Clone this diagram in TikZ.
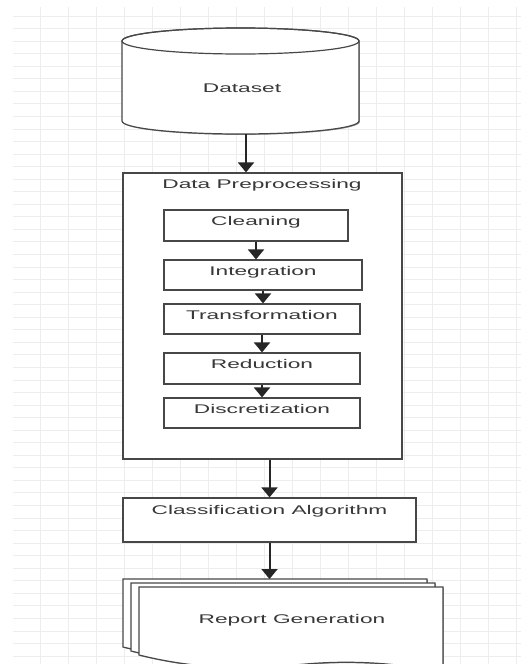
\documentclass[tikz,border=0pt]{standalone}
\usepackage{fontspec}
\setmainfont{Liberation Sans}[FakeStretch=1.8]
\usetikzlibrary{arrows.meta,positioning,shadows}

\begin{document}
\begin{tikzpicture}[
  x=1pt,y=-1pt,
  font=\fontsize{12.6}{15}\selectfont,
  >={Triangle[width=16pt,length=10pt]},
  gridline/.style={draw=black!7,line width=0.9pt},
  box/.style={draw=black!72,line width=1.2pt,fill=white,text=black!78,
              drop shadow={shadow xshift=0.9pt,shadow yshift=-0.9pt,fill=black!40,opacity=1}},
  rim/.style={draw=black!72,line width=1.2pt},
  stage/.style={box,minimum width=196pt,minimum height=30pt,text depth=9pt,inner sep=0pt},
  flow/.style={->,draw=black!85,line width=2pt},
  txt/.style={text=black!78},
]

\useasboundingbox (0,0) rectangle (521,664);

%% background grid
\foreach \gx in {0,...,17}
  \draw[gridline] (40+28*\gx,7) -- (40+28*\gx,664);
\foreach \gy in {0,...,51}
  \draw[gridline] (13,16+12.55*\gy) -- (521,16+12.55*\gy);

% --- Dataset (cylinder) ---
\path[box] (122,41) -- (122,121) arc[start angle=180,end angle=0,x radius=118.5,y radius=13]
  -- (359,41) arc[start angle=0,end angle=-180,x radius=118.5,y radius=13] -- cycle;
\draw[rim] (240.5,41) ellipse[x radius=118.5,y radius=13];
\node[txt] (dataset) at (242,88) {Dataset};
\coordinate (dsbot) at (246,134);

% --- Data preprocessing group ---
\node[box,minimum width=279pt,minimum height=286pt] (prep) at (262.5,316) {};
\node[txt] (preptitle) at (262,185) {Data Preprocessing};

\node[stage,minimum width=184pt,minimum height=31pt] (clean) at (256,225.5) {Cleaning};
\node[stage,minimum width=198pt] (integ) at (263,275) {Integration};
\node[stage] (trans) at (262,319) {Transformation};
\node[stage,minimum height=31pt] (reduce) at (262,368.5) {Reduction};
\node[stage] (discret) at (262,413) {Discretization};

% --- Classification ---
\node[box,minimum width=293pt,minimum height=44pt,text depth=20pt,inner sep=0pt]
  (classify) at (269.5,520) {Classification Algorithm};

% --- Report (stacked documents) ---
\begin{scope}
  \clip (0,0) rectangle (521,664);
  \foreach \i in {0,1,2}
    \path[box] (123+8*\i,579+4*\i) -- (427+8*\i,579+4*\i) -- (427+8*\i,664+4*\i)
      .. controls (381+8*\i,655+4*\i) and (336+8*\i,652+4*\i) .. (290+8*\i,656+4*\i)
      .. controls (229+8*\i,661+4*\i) and (184+8*\i,662+4*\i) .. (123+8*\i,647+4*\i) -- cycle;
\end{scope}
\node[txt] (report) at (292,620) {Report Generation};
\coordinate (doctop) at (123,579);

% --- connectors ---
\draw[flow] (dsbot) -- (dsbot |- prep.north);
\draw[flow] (clean.south) -- (clean.south |- integ.north);
\draw[flow] (integ.south) -- (integ.south |- trans.north);
\draw[flow] (trans.south) -- (reduce.north);
\draw[flow] (reduce.south) -- (discret.north);
\draw[flow] (classify.north |- prep.south) -- (classify.north);
\draw[flow] (classify.south) -- (classify.south |- doctop);

\end{tikzpicture}
\end{document}
